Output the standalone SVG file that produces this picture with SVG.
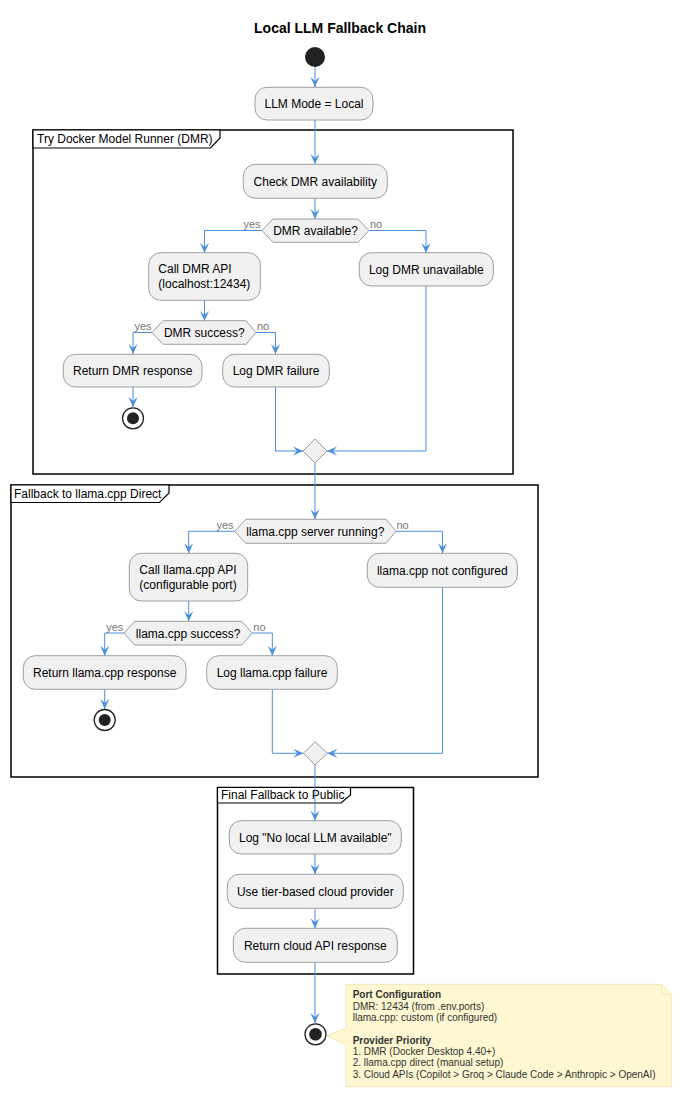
<svg xmlns="http://www.w3.org/2000/svg" width="682" height="1097" viewBox="0 0 682 1097">
<style>
.t{font-family:"Liberation Sans",Arial,sans-serif;font-size:12px;fill:#000}
.c{text-anchor:middle}
.title{font-family:"Liberation Sans",Arial,sans-serif;font-size:14px;font-weight:bold;text-anchor:middle;fill:#000}
.box{fill:#F1F1F1;stroke:#888;stroke-width:0.8}
.frame{fill:none;stroke:#000;stroke-width:1.5}
.tab{fill:#fff;stroke:#000;stroke-width:1.2}
.lbl{font-family:"Liberation Sans",Arial,sans-serif;font-size:11px;fill:#777}
.cn path{fill:none;stroke:#4A8FE0;stroke-width:1;marker-end:url(#ah)}
.note{fill:#FDF8D2;stroke:#EDE3AE;stroke-width:0.8}
.nt{font-family:"Liberation Sans",Arial,sans-serif;font-size:10px;fill:#333}
.nb{font-weight:bold}
</style>
<defs>
<marker id="ah" markerUnits="userSpaceOnUse" markerWidth="11" markerHeight="10" refX="10" refY="5" orient="auto" viewBox="0 0 11 10">
<path d="M0,0.5 L10,5 L0,9.5 L4,5 Z" fill="#4A8FE0"/>
</marker>
</defs>
<rect width="682" height="1097" fill="#fff"/>
<text class="title" x="340" y="33">Local LLM Fallback Chain</text>

<g id="frame-dmr">
<rect class="frame" x="33" y="130" width="480" height="344"/>
<path class="tab" d="M33,130 L220,130 L220,138 L210.5,148 L33,148 Z"/>
<text class="t" x="37" y="143">Try Docker Model Runner (DMR)</text>
</g>
<g id="frame-llama">
<rect class="frame" x="11" y="485" width="527" height="292"/>
<path class="tab" d="M11,485 L169,485 L169,493 L159.5,502.5 L11,502.5 Z"/>
<text class="t" x="14" y="497.5">Fallback to llama.cpp Direct</text>
</g>
<g id="frame-public">
<rect class="frame" x="217.5" y="787.5" width="196" height="186.5"/>
<path class="tab" d="M217.5,787.5 L350.5,787.5 L350.5,795 L341,803 L217.5,803 Z"/>
<text class="t" x="221" y="799">Final Fallback to Public</text>
</g>

<g class="cn" id="connectors">
<path d="M315,67 V87"/>
<path d="M315,120 V164"/>
<path d="M315,198 V219"/>
<path d="M262,230.5 H204.5 V253"/>
<path d="M369,230.5 H426 V253"/>
<path d="M204.5,300 V321"/>
<path d="M152,332.5 H133 V354"/>
<path d="M256,332.5 H275.5 V354"/>
<path d="M133,387 V407"/>
<path d="M275.5,387 V451 H303"/>
<path d="M426,286 V451 H327"/>
<path d="M315,463 V519.3"/>
<path d="M234.7,531.3 H188.7 V553.3"/>
<path d="M396,531.3 H442.5 V553.3"/>
<path d="M188.7,601 V621.3"/>
<path d="M124,633 H104.7 V655.7"/>
<path d="M252.3,633 H272.3 V655.7"/>
<path d="M104.7,689.3 V709"/>
<path d="M272.3,689.3 V753.3 H303.3"/>
<path d="M442.5,587.3 V753.3 H327.3"/>
<path d="M315,765 V820.7"/>
<path d="M315,854 V874.3"/>
<path d="M315,908.3 V928.3"/>
<path d="M315,962.3 V1023"/>
</g>

<g id="labels">
<text class="lbl" x="260.5" y="228" text-anchor="end">yes</text>
<text class="lbl" x="370" y="228">no</text>
<text class="lbl" x="151.5" y="330" text-anchor="end">yes</text>
<text class="lbl" x="257" y="330">no</text>
<text class="lbl" x="233.5" y="529.3" text-anchor="end">yes</text>
<text class="lbl" x="396.5" y="529.3">no</text>
<text class="lbl" x="123.3" y="630.7" text-anchor="end">yes</text>
<text class="lbl" x="253.3" y="630.7">no</text>
</g>

<g id="start"><circle cx="315" cy="57" r="10" fill="#222"/></g>
<g id="llm-mode"><rect class="box" x="255" y="87.3" width="118" height="32.7" rx="12"/><text class="t c" x="314" y="108">LLM Mode = Local</text></g>
<g id="check-dmr"><rect class="box" x="243.3" y="164.3" width="144" height="34" rx="12"/><text class="t c" x="315.3" y="185.5">Check DMR availability</text></g>
<g id="dmr-available"><polygon class="box" points="262,230.5 273,219 358,219 369,230.5 358,242.3 273,242.3"/><text class="t c" x="315.5" y="235">DMR available?</text></g>
<g id="call-dmr"><rect class="box" x="148.7" y="252.7" width="111.6" height="47.6" rx="12"/><text class="t" x="158.3" y="273">Call DMR API</text><text class="t" x="158.3" y="287.5">(localhost:12434)</text></g>
<g id="log-dmr-unavailable"><rect class="box" x="359.3" y="252.7" width="134" height="33.3" rx="12"/><text class="t c" x="426.3" y="274">Log DMR unavailable</text></g>
<g id="dmr-success"><polygon class="box" points="152,332.5 163,320.7 246,320.7 256,332.5 246,344.3 163,344.3"/><text class="t c" x="204.3" y="337">DMR success?</text></g>
<g id="return-dmr"><rect class="box" x="63.3" y="354.3" width="138.7" height="32.7" rx="12"/><text class="t c" x="132.7" y="375">Return DMR response</text></g>
<g id="log-dmr-failure"><rect class="box" x="222.7" y="354.3" width="106.6" height="32.7" rx="12"/><text class="t c" x="276" y="375">Log DMR failure</text></g>
<g id="stop-dmr"><circle cx="133" cy="418.3" r="10.5" fill="#fff" stroke="#222" stroke-width="1.3"/><circle cx="133" cy="418.3" r="6" fill="#222"/></g>
<g id="merge-dmr"><polygon class="box" points="303,451 315,439 327,451 315,463"/></g>

<g id="llama-running"><polygon class="box" points="234.7,531.3 245.7,519.3 386,519.3 396,531.3 386,543.3 245.7,543.3"/><text class="t c" x="315.3" y="535.5">llama.cpp server running?</text></g>
<g id="call-llama"><rect class="box" x="129.3" y="553.3" width="118.4" height="47.7" rx="12"/><text class="t" x="139.3" y="574">Call llama.cpp API</text><text class="t" x="139.3" y="588.5">(configurable port)</text></g>
<g id="llama-not-configured"><rect class="box" x="367.3" y="553.3" width="150" height="34" rx="12"/><text class="t c" x="442.3" y="574.5">llama.cpp not configured</text></g>
<g id="llama-success"><polygon class="box" points="124,633 134.7,621.3 241.7,621.3 252.3,633 241.7,645 134.7,645"/><text class="t c" x="188.2" y="637.5">llama.cpp success?</text></g>
<g id="return-llama"><rect class="box" x="23.3" y="655.7" width="162.7" height="33.6" rx="12"/><text class="t c" x="104.7" y="677">Return llama.cpp response</text></g>
<g id="log-llama-failure"><rect class="box" x="206.7" y="655.7" width="130.6" height="33.6" rx="12"/><text class="t c" x="272" y="677">Log llama.cpp failure</text></g>
<g id="stop-llama"><circle cx="104.7" cy="720" r="10.5" fill="#fff" stroke="#222" stroke-width="1.3"/><circle cx="104.7" cy="720" r="6" fill="#222"/></g>
<g id="merge-llama"><polygon class="box" points="303.3,753.3 315,741.7 327.3,753.3 315,765"/></g>

<g id="log-no-local"><rect class="box" x="229.3" y="820.7" width="172" height="33.3" rx="12"/><text class="t c" x="315.3" y="841.5">Log "No local LLM available"</text></g>
<g id="use-cloud"><rect class="box" x="227.3" y="874.3" width="176" height="34" rx="12"/><text class="t c" x="315.3" y="895.5">Use tier-based cloud provider</text></g>
<g id="return-cloud"><rect class="box" x="233.3" y="928.3" width="164" height="34" rx="12"/><text class="t c" x="315.3" y="949.5">Return cloud API response</text></g>
<g id="stop-final"><circle cx="315.5" cy="1034.3" r="10.5" fill="#fff" stroke="#222" stroke-width="1.3"/><circle cx="315.5" cy="1034.3" r="6.3" fill="#222"/></g>

<g id="note">
<path class="note" d="M346,984.3 L661.7,984.3 L671.7,994.3 L671.7,1086.7 L346,1086.7 L346,1045 L326.7,1035.5 L346,1028 Z"/>
<path class="note" d="M661.7,984.3 L661.7,994.3 L671.7,994.3"/>
<text class="nt nb" x="352.7" y="998.3">Port Configuration</text>
<text class="nt" x="352.7" y="1009.7">DMR: 12434 (from .env.ports)</text>
<text class="nt" x="352.7" y="1021.1">llama.cpp: custom (if configured)</text>
<text class="nt nb" x="352.7" y="1043.5">Provider Priority</text>
<text class="nt" x="352.7" y="1054.9">1. DMR (Docker Desktop 4.40+)</text>
<text class="nt" x="352.7" y="1066.3">2. llama.cpp direct (manual setup)</text>
<text class="nt" x="352.7" y="1077.7">3. Cloud APIs (Copilot &gt; Groq &gt; Claude Code &gt; Anthropic &gt; OpenAI)</text>
</g>
</svg>
